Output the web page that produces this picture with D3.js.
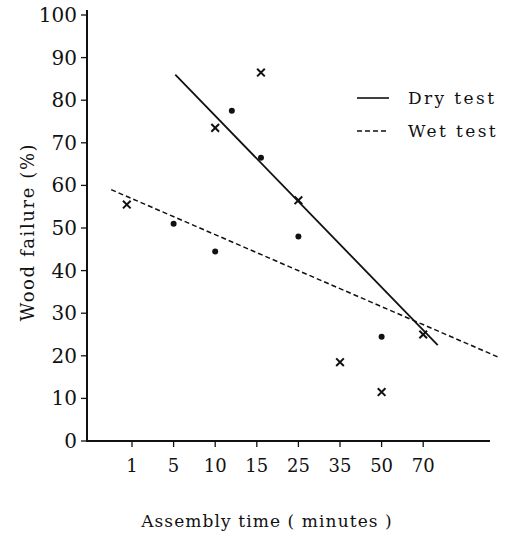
<!DOCTYPE html>
<meta charset="utf-8">
<head>
  <title>Wood failure vs assembly time</title>
  <style>
    body { margin: 0; background: #fff; }
  </style>
</head>
<body>
<script src="https://d3js.org/d3.v7.min.js"></script>
<div id="chart"></div>
<script>

// assembly time categories shown on the x axis (evenly spaced on the paper)
var minutes = [1, 5, 10, 15, 25, 35, 50, 70];
var yTicks = [0, 10, 20, 30, 40, 50, 60, 70, 80, 90, 100];

var dotPoints = [[5, 51], [10, 44.5], [12, 77.5], [16, 66.5], [25, 48], [50, 24.5]];
var crossPoints = [[0.5, 55.5], [10, 73.5], [16, 86.5], [25, 56.5], [35, 18.5], [50, 11.5], [70, 25]];

// fitted lines, end points [minutes, %]
var dryLine = [[5.2, 86], [77, 22.5]];
var wetLine = [[-1, 59], [107, 19.5]];

var width = 515, height = 544;
var serif = "'DejaVu Serif', serif";

var svg = d3.select("#chart")
  .append("svg")
    .attr("width", width)
    .attr("height", height)
    .style("font-family", serif);

// the paper spaces the categories evenly, so use a piecewise linear scale
var x = d3.scaleLinear()
    .domain(minutes)
    .range(minutes.map(function(d, i) { return 132 + i * 41.6; }));

var y = d3.scaleLinear()
    .domain([0, 100])
    .range([441, 15]);

var x0 = 87, xEnd = 490;

// axes
svg.append("line")
    .attr("x1", x0).attr("x2", x0)
    .attr("y1", 10).attr("y2", y(0))
    .style("stroke", "#111").style("stroke-width", "2px");
svg.append("line")
    .attr("x1", x0 - 1).attr("x2", xEnd)
    .attr("y1", y(0)).attr("y2", y(0))
    .style("stroke", "#111").style("stroke-width", "2px");

// y ticks + labels
var yg = svg.append("g");
yg.selectAll("line")
  .data(yTicks)
  .enter().append("line")
    .attr("x1", x0 - 6).attr("x2", x0)
    .attr("y1", function(d) { return y(d); })
    .attr("y2", function(d) { return y(d); })
    .style("stroke", "#111").style("stroke-width", "1.3px");
yg.selectAll("text")
  .data(yTicks)
  .enter().append("text")
    .attr("x", x0 - 10)
    .attr("y", function(d) { return y(d) + 7; })
    .attr("text-anchor", "end")
    .attr("fill", "#111")
    .style("font-size", "20px")
    .text(function(d) { return d; });

// x ticks + labels
var xg = svg.append("g");
xg.selectAll("line")
  .data(minutes)
  .enter().append("line")
    .attr("x1", function(d) { return x(d); })
    .attr("x2", function(d) { return x(d); })
    .attr("y1", y(0)).attr("y2", y(0) + 6)
    .style("stroke", "#111").style("stroke-width", "1.3px");
xg.selectAll("text")
  .data(minutes)
  .enter().append("text")
    .attr("x", function(d) { return x(d); })
    .attr("y", 472)
    .attr("text-anchor", "middle")
    .attr("fill", "#111")
    .style("font-size", "18px")
    .text(function(d) { return d; });

// axis titles
svg.append("text")
    .attr("transform", "translate(34,232) rotate(-90)")
    .attr("text-anchor", "middle")
    .attr("fill", "#111")
    .style("font-size", "18px")
    .style("letter-spacing", "1.6px")
    .text("Wood failure (%)");
svg.append("text")
    .attr("x", 267).attr("y", 527)
    .attr("text-anchor", "middle")
    .attr("fill", "#111")
    .style("font-size", "17px")
    .style("letter-spacing", "1.1px")
    .text("Assembly time ( minutes )");

// fitted lines
var line = d3.line()
    .x(function(d) { return x(d[0]); })
    .y(function(d) { return y(d[1]); });

svg.append("path")
    .datum(dryLine)
    .attr("d", line)
    .style("fill", "none").style("stroke", "#111").style("stroke-width", "1.8px");
svg.append("path")
    .datum(wetLine)
    .attr("d", line)
    .style("fill", "none").style("stroke", "#111").style("stroke-width", "1.5px")
    .style("stroke-dasharray", "5,3");

// points
svg.append("g").selectAll("circle")
  .data(dotPoints)
  .enter().append("circle")
    .attr("cx", function(d) { return x(d[0]); })
    .attr("cy", function(d) { return y(d[1]); })
    .attr("r", 3)
    .style("fill", "#111");

var cross = d3.symbol().type(d3.symbolX).size(40);
svg.append("g").selectAll("path")
  .data(crossPoints)
  .enter().append("path")
    .attr("d", cross)
    .attr("transform", function(d) { return "translate(" + x(d[0]) + "," + y(d[1]) + ")"; })
    .style("fill", "none").style("stroke", "#111").style("stroke-width", "2px");

// legend
var legend = [
  {label: "Dry test", dash: null, y: 98},
  {label: "Wet test", dash: "5,3", y: 131}
];
var lg = svg.append("g").selectAll("g")
  .data(legend)
  .enter().append("g");
lg.append("line")
    .attr("x1", 357).attr("x2", 389)
    .attr("y1", function(d) { return d.y; })
    .attr("y2", function(d) { return d.y; })
    .style("stroke", "#111").style("stroke-width", "1.6px")
    .style("stroke-dasharray", function(d) { return d.dash; });
lg.append("text")
    .attr("x", 408)
    .attr("y", function(d) { return d.y + 6; })
    .attr("fill", "#111")
    .style("font-size", "17px")
    .style("letter-spacing", "2.4px")
    .text(function(d) { return d.label; });

</script>
</body>
</html>
